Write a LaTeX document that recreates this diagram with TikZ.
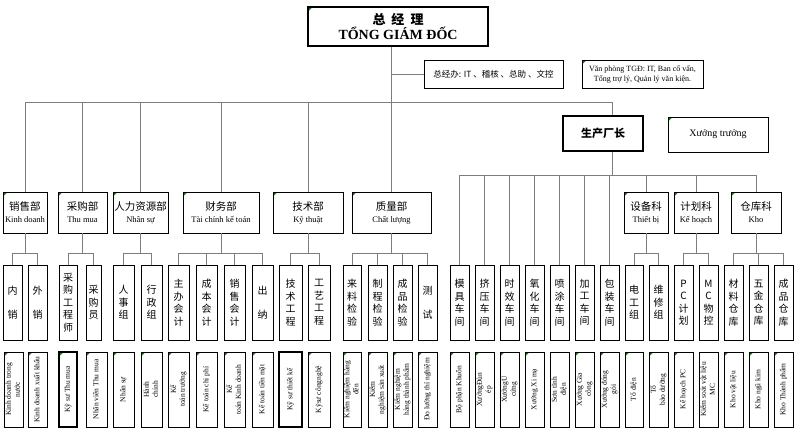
\documentclass[tikz,border=0pt]{standalone}
\usepackage{fontspec}
\setmainfont{Liberation Serif}
\newfontfamily\cjk{Noto Sans CJK SC}
\usepackage{graphicx}
\definecolor{ln}{RGB}{125,125,125}
\definecolor{mkg}{RGB}{20,120,20}
\newcommand\mybox[7][]{\node[#1, minimum width={(#4)-(#2)}, minimum height={(#5)-(#3)}] (#6) at ({((#2)+(#4))/2},{((#3)+(#5))/2}) {#7};}
\newcommand\rtxt[1]{\rotatebox{90}{\begin{tabular}{@{}c@{}}#1\end{tabular}}}
\tikzset{
  box/.style={draw=black, line width=0.8pt, inner sep=0pt, fill=white, align=center},
  mk/.style={path picture={\fill[mkg] ([xshift=0.3pt,yshift=-0.3pt]path picture bounding box.north west) -- ++(4pt,0pt) -- ++(-4pt,-4pt) -- cycle;}},
  dept/.style={box, mk, font={\fontsize{8.5}{12}\selectfont}},
  col/.style={box, font={\cjk\fontsize{10}{12.5}\selectfont}},
  leaf/.style={box, mk, font={\fontsize{7.5}{9}\selectfont}},
  leafn/.style={box, font={\fontsize{7.5}{9}\selectfont}},
  con/.style={draw=ln, line width=0.9pt},
}
\newcommand\zh[1]{{\cjk\fontsize{10.5}{12}\selectfont #1}}
\begin{document}
\begin{tikzpicture}[x=1pt,y=-1pt]
\fill[white] (0,0) rectangle (800,435);
\useasboundingbox (0,0) rectangle (800,435);
\coordinate (busy) at (0,102);
\coordinate (wby) at (0,175);
\coordinate (lb) at (0,253);
\coordinate (px) at (612,0);
% top
\mybox[box, mk, line width=1.3pt]{308}{7}{488}{46}{T}{{\cjk\bfseries\fontsize{13}{17}\selectfont 总\hspace{6pt}经\hspace{6pt}理}\\{\bfseries\fontsize{14}{17}\selectfont TỔNG GIÁM ĐỐC}}
\mybox[box, font={\cjk\fontsize{8.5}{10}\selectfont}]{424}{60}{563}{88}{Z}{总经办: IT 、稽核 、总助 、文控}
\mybox[box, mk, font={\fontsize{8}{10}\selectfont}]{582}{60}{703}{88}{V}{Văn phòng TGĐ: IT, Ban cố vấn,\\Tổng trợ lý, Quản lý văn kiện.}
\mybox[box, line width=1.3pt, font={\cjk\bfseries\fontsize{11}{13}\selectfont}]{563}{116}{643}{151}{P}{生产厂长}
\mybox[box, mk, font={\fontsize{10}{12}\selectfont}]{668}{117}{768}{152}{X}{Xưởng trưởng}
% departments
\mybox[dept]{3}{192}{47}{233}{D1}{\zh{销售部}\\Kinh doanh}
\mybox[dept]{58}{192}{107}{233}{D2}{\zh{采购部}\\Thu mua}
\mybox[dept]{113}{192}{168}{233}{D3}{\zh{人力资源部}\\Nhân sự}
\mybox[dept]{183}{192}{259}{233}{D4}{\zh{财务部}\\Tài chính kế toán}
\mybox[dept]{273}{192}{343}{233}{D5}{\zh{技术部}\\Kỹ thuật}
\mybox[dept]{352}{192}{431}{233}{D6}{\zh{质量部}\\Chất lượng}
\mybox[dept]{624}{192}{668}{233}{E1}{\zh{设备科}\\Thiết bị}
\mybox[dept]{674}{192}{718}{233}{E2}{\zh{计划科}\\Kế hoạch}
\mybox[dept]{731}{192}{781}{233}{E3}{\zh{仓库科}\\Kho}
% level 3
\mybox[col]{3}{265}{22}{340}{L1}{内\\[12pt]销}
\mybox[col]{28}{265}{47}{340}{L2}{外\\[12pt]销}
\mybox[col]{59}{265}{77}{340}{L3}{采\\购\\工\\程\\师}
\mybox[col]{86}{265}{101}{340}{L4}{采\\购\\员}
\mybox[col]{113}{265}{134}{340}{L5}{人\\事\\组}
\mybox[col]{141}{265}{162}{340}{L6}{行\\政\\组}
\mybox[col]{168}{265}{189}{340}{L7}{主\\办\\会\\计}
\mybox[col]{196}{265}{217}{340}{L8}{成\\本\\会\\计}
\mybox[col]{224}{265}{245}{340}{L9}{销\\售\\会\\计}
\mybox[col]{252}{265}{273}{340}{L10}{出\\[12pt]纳}
\mybox[col]{279}{265}{302}{340}{L11}{技\\术\\工\\程}
\mybox[col]{308}{265}{330}{340}{L12}{工\\艺\\工\\程}
\mybox[col]{343}{265}{361}{340}{L13}{来\\料\\检\\验}
\mybox[col]{368}{265}{387}{340}{L14}{制\\程\\检\\验}
\mybox[col]{393}{265}{412}{340}{L15}{成\\品\\检\\验}
\mybox[col]{418}{265}{437}{340}{L16}{测\\[12pt]试}
\mybox[col]{450}{265}{469}{340}{W1}{模\\具\\车\\间}
\mybox[col]{475}{265}{494}{340}{W2}{挤\\压\\车\\间}
\mybox[col]{500}{265}{519}{340}{W3}{时\\效\\车\\间}
\mybox[col]{525}{265}{544}{340}{W4}{氧\\化\\车\\间}
\mybox[col]{550}{265}{569}{340}{W5}{喷\\涂\\车\\间}
\mybox[col]{575}{265}{594}{340}{W6}{加\\工\\车\\间}
\mybox[col]{600}{265}{619}{340}{W7}{包\\装\\车\\间}
\mybox[col]{625}{265}{643}{340}{L17}{电\\工\\组}
\mybox[col]{649}{265}{668}{340}{L18}{维\\修\\组}
\mybox[col]{674}{265}{693}{340}{L19}{P\\C\\计\\划}
\mybox[col]{699}{265}{718}{340}{L20}{M\\C\\物\\控}
\mybox[col]{724}{265}{743}{340}{L21}{材\\料\\仓\\库}
\mybox[col]{749}{265}{768}{340}{L22}{五\\金\\仓\\库}
\mybox[col]{774}{265}{793}{340}{L23}{成\\品\\仓\\库}
% leaves
\mybox[leaf]{4}{352}{23}{427}{B1}{\rtxt{Kinh doanh trong\\nước}}
\mybox[leaf]{28}{352}{47}{427}{B2}{\rtxt{Kinh doanh xuất khẩu}}
\mybox[leaf, line width=1.2pt]{59}{352}{77}{427}{B3}{\rtxt{Kỹ sư Thu mua}}
\mybox[leaf]{86}{352}{107}{427}{B4}{\rtxt{Nhân viên Thu mua}}
\mybox[leaf]{113}{352}{134}{427}{B5}{\rtxt{Nhân sự}}
\mybox[leaf]{141}{352}{162}{427}{B6}{\rtxt{Hành\\chính}}
\mybox[leaf]{168}{352}{189}{427}{B7}{\rtxt{Kế\\toán trưởng}}
\mybox[leaf]{196}{352}{217}{427}{B8}{\rtxt{Kế toán chi phí}}
\mybox[leaf]{224}{352}{245}{427}{B9}{\rtxt{Kế\\toán Kinh doanh}}
\mybox[leaf]{252}{352}{273}{427}{B10}{\rtxt{Kế toán tiền mặt}}
\mybox[leafn, line width=1.2pt]{279}{352}{302}{427}{B11}{\rtxt{Kỹ sư thiết kế}}
\mybox[leaf]{308}{352}{330}{427}{B12}{\rtxt{Kỹsư côngnghệ}}
\mybox[leaf]{343}{352}{361}{427}{B13}{\rtxt{Kiểm nghiệm hàng\\đến}}
\mybox[leaf]{368}{352}{387}{427}{B14}{\rtxt{Kiểm\\nghiệm sản xuất}}
\mybox[leaf]{393}{352}{412}{427}{B15}{\rtxt{Kiểm nghiệm\\hàng thành phẩm}}
\mybox[leaf]{418}{352}{437}{427}{B16}{\rtxt{Đo lường thí nghiệm}}
\mybox[leaf]{450}{352}{469}{427}{B17}{\rtxt{Bộ phận Khuôn}}
\mybox[leaf]{475}{352}{494}{427}{B18}{\rtxt{XưởngĐùn\\ép}}
\mybox[leaf]{500}{352}{519}{427}{B19}{\rtxt{XưởngỦ\\cứng}}
\mybox[leaf]{525}{352}{544}{427}{B20}{\rtxt{Xưởng Xi mạ}}
\mybox[leafn]{550}{352}{569}{427}{B21}{\rtxt{Sơn tĩnh\\điện}}
\mybox[leaf]{575}{352}{594}{427}{B22}{\rtxt{Xưởng Gia\\công}}
\mybox[leaf]{600}{352}{619}{427}{B23}{\rtxt{Xưởng đóng\\gói}}
\mybox[leaf]{625}{352}{643}{427}{B24}{\rtxt{Tổ điện}}
\mybox[leaf]{649}{352}{668}{427}{B25}{\rtxt{Tổ\\bảo dưỡng}}
\mybox[leaf]{674}{352}{693}{427}{B26}{\rtxt{Kế hoạch PC}}
\mybox[leafn]{699}{352}{718}{427}{B27}{\rtxt{Kiểm soát vật liệu\\MC}}
\mybox[leaf]{724}{352}{743}{427}{B28}{\rtxt{Kho vật liệu}}
\mybox[leaf]{749}{352}{768}{427}{B29}{\rtxt{Kho ngũ kim}}
\mybox[leaf]{774}{352}{793}{427}{B30}{\rtxt{Kho Thành phẩm}}
% connectors
\draw[con] (T.south -| D6.north) -- (D6.north);
\draw[con] (Z.west) -- (Z.west -| D6.north);
\draw[con] (D1.north) -- (D1.north |- busy) -- (px |- busy) -- (px |- P.north);
\foreach \d in {D2,D3,D4,D5} \draw[con] (\d.north) -- (\d.north |- busy);
\draw[con] (px |- P.south) -- (px |- wby);
\draw[con] (W1.north) -- (W1.north |- wby) -- (E3.north |- wby) -- (E3.north);
\foreach \w in {W2,W3,W4,W5,W6,W7,E1,E2} \draw[con] (\w.north) -- (\w.north |- wby);
\foreach \d/\a/\b in {D1/L1/L2, D2/L3/L4, D3/L5/L6, D4/L7/L10, D5/L11/L12, D6/L13/L16, E1/L17/L18, E2/L19/L20, E3/L21/L23}
  {\draw[con] (\d.south) -- (\d.south |- lb);
   \draw[con] (\a.north) -- (\a.north |- lb) -- (\b.north |- lb) -- (\b.north);}
\foreach \m in {L8,L9,L14,L15,L22} \draw[con] (\m.north) -- (\m.north |- lb);
\end{tikzpicture}
\end{document}
